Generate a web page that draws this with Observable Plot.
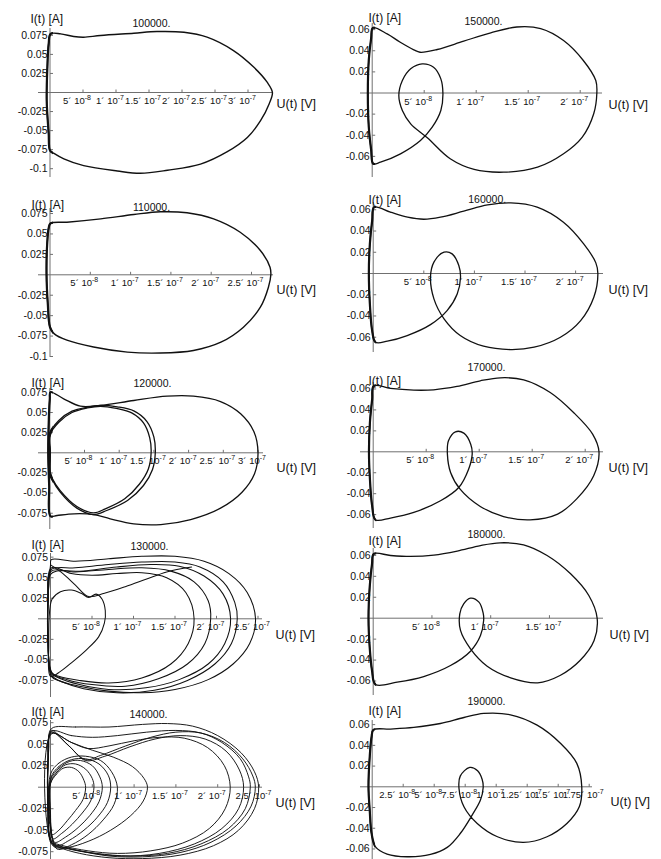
<!DOCTYPE html>
<html><head><meta charset="utf-8">
<script src="https://cdn.jsdelivr.net/npm/d3@7"></script>
<script src="https://cdn.jsdelivr.net/npm/@observablehq/plot@0.6"></script>
<style>
html,body{margin:0;padding:0;background:#fff;overflow:hidden}
#wrap{position:relative;width:661px;height:859px;overflow:hidden;background:#fff}
#wrap svg{position:absolute;overflow:visible;background:transparent}
</style></head><body><div id="wrap"></div>
<script>
// U values in units of 1e-8 V, I values in A
const titles = ["100000.","110000.","120000.","130000.","140000.","150000.","160000.","170000.","180000.","190000."];
const yTicksA = [0.075,0.05,0.025,-0.025,-0.05,-0.075,-0.1];
const yLabelsA = ["0.075","0.05","0.025","-0.025","-0.05","-0.075","-0.1"];
const yTicksB = [0.075,0.05,0.025,-0.025,-0.05,-0.075];
const yLabelsB = ["0.075","0.05","0.025","-0.025","-0.05","-0.075"];
const yTicksC = [0.06,0.04,0.02,-0.02,-0.04,-0.06];
const yLabelsC = ["0.06","0.04","0.02","-0.02","-0.04","-0.06"];
const xTicks6 = [5,10,15,20,25,30];
const xLabels6 = ["5´ 10^-8","1´ 10^-7","1.5´ 10^-7","2´ 10^-7","2.5´ 10^-7","3´ 10^-7"];
const xTicks5 = [5,10,15,20,25];
const xLabels5 = ["5´ 10^-8","1´ 10^-7","1.5´ 10^-7","2´ 10^-7","2.5´ 10^-7"];
const xTicks4 = [5,10,15,20];
const xLabels4 = ["5´ 10^-8","1´ 10^-7","1.5´ 10^-7","2´ 10^-7"];
const xTicks3 = [5,10,15];
const xLabels3 = ["5´ 10^-8","1´ 10^-7","1.5´ 10^-7"];
const xTicks7 = [2.5,5,7.5,10,12.5,15,17.5];
const xLabels7 = ["2.5´ 10^-8","5´ 10^-8","7.5´ 10^-8","1´ 10^-7","1.25´ 10^-7","1.5´ 10^-7","1.75´ 10^-7"];

const curve100k = [[0.1,0.077],[1.6,0.077],[3.6,0.0735],[5.1,0.0726],[7.65,0.0748],[12.7,0.0778],[16.2,0.080],[20.3,0.079],[23.8,0.0726],[27.8,0.055],[30.9,0.033],[32.9,0.0135],[33.7,0],[33.2,-0.015],[31.9,-0.037],[29.9,-0.059],[26.8,-0.078],[22.8,-0.094],[17.8,-0.102],[13.7,-0.106],[10.2,-0.103],[5.1,-0.096],[2.1,-0.087],[0.6,-0.080],[0,-0.076],[-0.2,-0.054],[-0.5,-0.0105],[-0.4,0.033],[-0.2,0.064]];
const curve110k = [[0.06,0.063],[2.1,0.0644],[6.3,0.0685],[10.4,0.0738],[13.7,0.0771],[17.0,0.0759],[20.3,0.0685],[23.6,0.0521],[26.1,0.0297],[27.3,0.0093],[27.4,0],[27.1,-0.0152],[26.1,-0.0397],[24.0,-0.0641],[21.2,-0.0825],[17.8,-0.0926],[13.7,-0.0957],[9.6,-0.0946],[5.4,-0.0884],[2.1,-0.080],[0.5,-0.072],[0,-0.064],[-0.27,-0.036],[-0.43,0],[-0.35,0.038],[-0.15,0.058]];
const curve120kA = [[0.1,-0.0787],[-0.09,-0.0406],[-0.23,0],[-0.14,0.042],[0,0.067],[0.1,0.0752],[2.0,0.067],[4.4,0.0578],[7.3,0.0587],[12.1,0.0649],[16.9,0.0702],[20.7,0.0702],[24.6,0.0636],[27.5,0.0484],[29.4,0.0264],[30.0,0],[29.5,-0.026],[27.7,-0.0489],[24.6,-0.0687],[20.3,-0.0828],[16.0,-0.089],[12.1,-0.0881],[8.7,-0.0819],[6.3,-0.0766],[3.5,-0.0757],[1.05,-0.0778]];
const curve120kB = [[0,-0.026],[0,0],[0,0.0236],[1.3,0.040],[3.2,0.0516],[5.4,0.0566],[7.3,0.0587],[9.7,0.057],[12.1,0.052],[14.0,0.0388],[15.0,0.0194],[15.2,0],[14.8,-0.0207],[13.5,-0.0406],[11.2,-0.0592],[8.2,-0.0716],[6.3,-0.0766],[3.9,-0.0687],[1.5,-0.0489],[0.3,-0.0323]];
const curve120kC = [[0,-0.024],[0,0],[0,0.022],[1.3,0.038],[3.2,0.050],[5.4,0.0556],[7.3,0.0577],[9.6,0.055],[11.8,0.0495],[13.5,0.037],[14.4,0.0185],[14.6,0],[14.2,-0.02],[12.9,-0.039],[10.8,-0.057],[8.0,-0.0695],[6.3,-0.0745],[3.9,-0.0667],[1.5,-0.047],[0.3,-0.031]];
const curve130kA = [[0.1,0.072],[3,0.07],[7,0.073],[11,0.076],[15,0.076],[18.5,0.07],[21.5,0.055],[23.7,0.032],[24.7,0],[24,-0.03],[22,-0.055],[19,-0.074],[15,-0.086],[11,-0.09],[7,-0.088],[3.5,-0.082],[1,-0.075],[0.1,-0.068],[-0.3,-0.03],[-0.35,0.01],[-0.2,0.045],[0,0.065]];
const curve130kB = [[0.1,0.06],[3,0.062],[7,0.066],[11,0.069],[15,0.069],[18,0.063],[20.8,0.045],[22.2,0.02],[22.5,0],[21.8,-0.03],[19.8,-0.055],[16.5,-0.075],[12.5,-0.087],[8,-0.09],[4,-0.085],[1.2,-0.076],[0.1,-0.07],[-0.3,-0.03],[-0.35,0.01],[-0.2,0.04]];
const curve130kC = [[0.1,0.055],[4,0.058],[8,0.063],[12,0.066],[15.5,0.064],[18.5,0.052],[20.8,0.03],[21.7,0],[21,-0.03],[19,-0.055],[15.5,-0.074],[11.5,-0.084],[7,-0.086],[3.5,-0.08],[1,-0.072],[0.1,-0.066],[-0.3,-0.02],[-0.3,0.02]];
const curve130kD = [[0.1,0.058],[3,0.057],[7,0.06],[11,0.062],[14.5,0.058],[17.3,0.045],[19,0.022],[19.3,0],[18.6,-0.03],[16.5,-0.055],[13,-0.073],[9,-0.082],[5,-0.08],[2,-0.074],[0.2,-0.066],[-0.3,-0.02],[-0.3,0.02]];
const curve130kE = [[0.1,0.062],[2.5,0.055],[5,0.053],[8,0.055],[11,0.056],[14,0.05],[16.3,0.032],[17.3,0],[16.6,-0.03],[14.5,-0.055],[11,-0.072],[7,-0.078],[3.5,-0.075],[1,-0.07],[0.1,-0.065],[-0.3,-0.02],[-0.3,0.02]];
const curve130kF = [[0.1,0.065],[1.5,0.055],[3,0.041],[4.6,0.027],[6.5,0.031],[9,0.039],[11.5,0.048],[14,0.057],[17,0.063]];
const curve130kG = [[0,-0.07],[-0.2,-0.03],[-0.1,0.01],[0.2,0.024],[1.2,0.033],[2.5,0.035],[3.7,0.031],[4.6,0.026],[5.5,0.03],[6.2,0.024],[6.6,0.01],[6.5,-0.005],[5.8,-0.022],[4.3,-0.038],[2.7,-0.052],[1.2,-0.064]];
const curve140kO1 = [[0.1,0.068],[3,0.07],[7,0.07],[11,0.073],[14,0.074],[17,0.071],[20,0.06],[22.8,0.04],[24.4,0.018],[24.9,0],[24.4,-0.025],[22.5,-0.05],[19.5,-0.068],[15.5,-0.079],[11,-0.083],[7,-0.082],[3.5,-0.077],[1,-0.07],[0.1,-0.066],[-0.3,-0.03],[-0.35,0.01],[-0.2,0.045]];
const curve140kO2 = [[0.1,0.066],[2,0.05],[4.2,0.032],[6,0.037],[9,0.048],[12,0.058],[15,0.064],[18,0.063],[20.8,0.052],[23,0.033],[24.2,0.013],[24.5,0],[24,-0.022],[22.2,-0.045],[19.2,-0.064],[15.5,-0.076],[11,-0.081],[7,-0.08],[3.5,-0.074],[1,-0.068],[0.1,-0.064],[-0.3,-0.02],[-0.3,0.02]];
const curve140kO3 = [[0.1,0.065],[2.5,0.06],[5,0.058],[8,0.06],[11.5,0.064],[15,0.066],[18,0.063],[20.5,0.052],[22.7,0.033],[23.7,0.012],[23.9,0],[23.3,-0.025],[21.3,-0.048],[18,-0.066],[14,-0.077],[9.5,-0.08],[5.5,-0.077],[2.5,-0.072],[0.3,-0.066],[-0.3,-0.02],[-0.3,0.03]];
const curve140kO4 = [[0.1,0.064],[2.2,0.048],[4.2,0.031],[6.5,0.036],[9.5,0.047],[12.5,0.056],[15.5,0.06],[18.5,0.056],[21,0.042],[22.6,0.02],[23.1,0],[22.5,-0.025],[20.5,-0.048],[17.2,-0.066],[13,-0.077],[8.5,-0.08],[4.5,-0.076],[1.5,-0.07],[0.1,-0.064],[-0.3,-0.02],[-0.3,0.03]];
const curve140kO5 = [[0.1,0.063],[2.5,0.052],[4.5,0.045],[7,0.048],[10,0.054],[13,0.058],[16,0.057],[18.8,0.046],[20.8,0.025],[21.5,0],[20.9,-0.025],[19,-0.048],[15.8,-0.065],[12,-0.074],[8,-0.077],[4.5,-0.074],[1.5,-0.068],[0.1,-0.062],[-0.3,-0.02],[-0.3,0.03]];
const curve140kI1 = [[0.1,0.062],[2.5,0.052],[5,0.043],[7.5,0.035],[9.8,0.024],[11.2,0.01],[11.6,0],[11.1,-0.016],[9.6,-0.033],[7.2,-0.05],[4.5,-0.063],[2,-0.07],[0.3,-0.068]];
const curve140kI2 = [[0,0.015],[1,0.028],[2.5,0.035],[4.2,0.036],[6,0.031],[7.3,0.018],[8,0],[7.6,-0.02],[6.3,-0.038],[4.5,-0.055],[2.5,-0.067],[0.8,-0.072],[0,-0.05]];
const curve140kI3 = [[0,0.01],[1,0.024],[2.5,0.032],[4.2,0.033],[5.8,0.027],[6.9,0.014],[7.2,0],[6.8,-0.018],[5.6,-0.035],[4,-0.05],[2.2,-0.062],[0.7,-0.068],[0,-0.045]];
const curve140kI4 = [[0,0.008],[1,0.022],[2.3,0.03],[3.6,0.031],[5,0.025],[5.9,0.012],[6.2,0],[5.8,-0.017],[4.7,-0.033],[3.3,-0.047],[1.8,-0.058],[0.5,-0.064],[0,-0.04]];
const curve140kI5 = [[0,0.005],[0.8,0.018],[1.8,0.026],[3,0.027],[4.2,0.021],[5,0.01],[5.2,0],[4.8,-0.016],[3.8,-0.03],[2.6,-0.043],[1.3,-0.054],[0.3,-0.06],[0,-0.035]];
const curve140kI6 = [[0,0.004],[0.7,0.015],[1.5,0.022],[2.5,0.023],[3.4,0.018],[4,0.008],[4.2,0],[3.9,-0.014],[3,-0.027],[2,-0.039],[1,-0.05],[0.2,-0.055],[0,-0.03]];
const curve150k = [[0.07,0.0617],[1.44,0.056],[2.7,0.048],[4.0,0.0409],[4.6,0.0386],[6.25,0.0412],[8.8,0.0491],[11.4,0.057],[13.9,0.0625],[16.2,0.0610],[18.4,0.0497],[20.3,0.0308],[21.5,0.0118],[21.6,0],[21.3,-0.0197],[20.2,-0.0418],[18.4,-0.0576],[15.9,-0.0703],[12.65,-0.075],[9.8,-0.0724],[7.5,-0.0623],[5.3,-0.0424],[3.7,-0.0292],[2.9,-0.0166],[2.56,-0.0024],[2.9,0.0118],[3.7,0.0229],[4.8,0.0276],[5.9,0.0244],[6.6,0.0134],[6.8,-0.0008],[6.6,-0.0166],[5.77,-0.0324],[4.64,-0.045],[2.72,-0.0576],[0.8,-0.0655],[0.1,-0.067],[-0.1,-0.054],[-0.33,-0.032],[-0.42,0],[-0.33,0.031],[-0.1,0.052]];
const curve160k = [[0.1,0.0625],[1.7,0.0577],[3.4,0.053],[5.0,0.0511],[6.65,0.053],[8.95,0.0587],[11.3,0.0646],[13.6,0.0665],[16.2,0.0625],[18.8,0.0483],[20.8,0.0279],[22.0,0.01],[22.2,0],[21.8,-0.0223],[20.5,-0.0443],[18.5,-0.06],[15.9,-0.0694],[13.6,-0.0716],[10.9,-0.0685],[8.6,-0.0584],[7.0,-0.0427],[6.0,-0.0239],[5.66,-0.0035],[6.0,0.0107],[7.0,0.0201],[7.8,0.0185],[8.46,0.0075],[8.63,-0.0035],[8.3,-0.0192],[7.3,-0.0349],[5.66,-0.0481],[3.36,-0.0584],[1.4,-0.0637],[0.23,-0.0647],[-0.1,-0.054],[-0.33,-0.0285],[-0.43,0],[-0.33,0.0279],[-0.1,0.05]];
const curve170k = [[0.06,0.063],[1.63,0.0605],[3.83,0.0589],[5.7,0.0592],[7.9,0.0624],[10.1,0.0678],[12.0,0.0707],[14.2,0.0688],[16.7,0.0567],[18.9,0.0376],[20.7,0.0169],[21.3,0],[20.8,-0.0229],[19.2,-0.045],[17.4,-0.0595],[14.8,-0.065],[12.3,-0.0618],[10.1,-0.0522],[8.2,-0.0357],[7.3,-0.0197],[7.0,-0.0022],[7.1,0.0105],[7.76,0.0191],[8.55,0.0178],[9.2,0.0073],[9.34,-0.0022],[9.0,-0.0166],[8.07,-0.0341],[6.35,-0.0468],[3.83,-0.0579],[1.63,-0.0633],[0.22,-0.065],[-0.1,-0.0516],[-0.31,-0.026],[-0.4,0],[-0.31,0.028],[-0.1,0.05]];
const curve180k = [[0.05,0.0615],[1.47,0.0599],[3.17,0.059],[5.16,0.0602],[7.15,0.0641],[9.13,0.0694],[10.8,0.072],[12.8,0.0701],[14.8,0.0599],[16.8,0.0424],[18.35,0.0217],[19.06,0],[18.8,-0.0213],[17.6,-0.0404],[15.9,-0.0547],[14.0,-0.0617],[11.7,-0.0569],[9.7,-0.0458],[8.28,-0.0292],[7.43,-0.0117],[7.37,0.0042],[7.7,0.0137],[8.28,0.0191],[9.0,0.0153],[9.36,0.0048],[9.4,-0.0022],[9.13,-0.0166],[8.28,-0.0315],[6.58,-0.0452],[4.3,-0.0557],[2.04,-0.0611],[0.2,-0.0633],[-0.1,-0.05],[-0.3,-0.0277],[-0.4,0],[-0.3,0.0296],[-0.1,0.0519]];
const curve190k = [[0.1,0.055],[1.48,0.0557],[3.35,0.0573],[5.5,0.0611],[7.4,0.0669],[9.0,0.0708],[11.15,0.0695],[13.3,0.0595],[15.2,0.0418],[16.5,0.0226],[16.9,0],[16.7,-0.0193],[15.7,-0.0354],[14.1,-0.0482],[12.2,-0.0537],[10.1,-0.0482],[8.47,-0.0354],[7.4,-0.0193],[7.0,-0.0016],[7.1,0.0103],[7.87,0.0187],[8.5,0.0155],[8.87,0.0071],[8.95,-0.0006],[8.73,-0.0128],[8.06,-0.0273],[7.1,-0.0451],[6.05,-0.0585],[4.7,-0.0653],[2.82,-0.0675],[1.2,-0.0649],[0.27,-0.0579],[-0.05,-0.045],[-0.2,-0.0225],[-0.3,0],[-0.2,0.029],[-0.05,0.0483]];

// layout (pixels within each 330-wide panel)
const layouts = [
  {left:0,top:0,ox:49.5,oy:92,pu:6.6,pi:762,yTop:28,yBot:177,xL:38,xR:273,tx:151,ty:19.3,ix:30,iy:14,ux:276,uy:99},
  {left:0,top:170,ox:49.5,oy:104.3,pu:8.06,pi:817,yTop:38,yBot:187,xL:38,xR:273,tx:151,ty:32.7,ix:31,iy:30,ux:276,uy:115},
  {left:0,top:345,ox:49.3,oy:107.3,pu:6.94,pi:806,yTop:43,yBot:184,xL:38,xR:263,tx:152,ty:34.3,ix:31,iy:33,ux:276,uy:118},
  {left:0,top:520,ox:50,oy:98.3,pu:8.3,pi:822,yTop:33,yBot:177,xL:38,xR:262,tx:149,ty:21.7,ix:31,iy:20,ux:275,uy:110},
  {left:0,top:690,ox:50,oy:96.7,pu:8.36,pi:860,yTop:30,yBot:175,xL:38,xR:262,tx:148,ty:20,ix:31,iy:17,ux:275,uy:108},
  {left:330,top:0,ox:41.7,oy:92.5,pu:10.4,pi:1056,yTop:23,yBot:177,xL:30,xR:272,tx:153,ty:16.7,ix:38,iy:12.5,ux:278,uy:100},
  {left:330,top:170,ox:42.7,oy:103,pu:10.12,pi:1062,yTop:32,yBot:182,xL:32,xR:273,tx:156.7,ty:25,ix:38,iy:25,ux:278,uy:115},
  {left:330,top:345,ox:42.7,oy:106.3,pu:10.6,pi:1047,yTop:37,yBot:183,xL:30,xR:273,tx:156,ty:18.3,ix:38,iy:30.5,ux:278,uy:118},
  {left:330,top:520,ox:42.7,oy:97.7,pu:11.75,pi:1047,yTop:28,yBot:175,xL:30,xR:273,tx:156,ty:10,ix:38,iy:16,ux:279,uy:110},
  {left:330,top:690,ox:41.7,oy:96.3,pu:12.4,pi:1036,yTop:30,yBot:175,xL:30,xR:262,tx:156,ty:6.7,ix:38,iy:16,ux:280,uy:107}
];

const panels = [
  {closed:[curve100k], open:[], xt:xTicks6, xl:xLabels6, yt:yTicksA, yl:yLabelsA, sw:1.4, thick:true},
  {closed:[curve110k], open:[], xt:xTicks5, xl:xLabels5, yt:yTicksA, yl:yLabelsA, sw:1.4, thick:true},
  {closed:[curve120kA,curve120kB,curve120kC], open:[], xt:xTicks6, xl:xLabels6, yt:yTicksB, yl:yLabelsB, sw:1.3, thick:true},
  {closed:[curve130kA,curve130kB,curve130kC,curve130kD,curve130kE,curve130kG], open:[curve130kF], xt:xTicks5, xl:xLabels5, yt:yTicksB, yl:yLabelsB, sw:1.05, thick:false},
  {closed:[curve140kO1,curve140kO2,curve140kO3,curve140kO4,curve140kO5,curve140kI1,curve140kI2,curve140kI3,curve140kI4,curve140kI5,curve140kI6], open:[], xt:xTicks5, xl:xLabels5, yt:yTicksB, yl:yLabelsB, sw:0.95, thick:false},
  {closed:[curve150k], open:[], xt:xTicks4, xl:xLabels4, yt:yTicksC, yl:yLabelsC, sw:1.3, thick:true},
  {closed:[curve160k], open:[], xt:xTicks4, xl:xLabels4, yt:yTicksC, yl:yLabelsC, sw:1.3, thick:true},
  {closed:[curve170k], open:[], xt:xTicks4, xl:xLabels4, yt:yTicksC, yl:yLabelsC, sw:1.3, thick:true},
  {closed:[curve180k], open:[], xt:xTicks3, xl:xLabels3, yt:yTicksC, yl:yLabelsC, sw:1.3, thick:true},
  {closed:[curve190k], open:[], xt:xTicks7, xl:xLabels7, yt:yTicksC, yl:yLabelsC, sw:1.3, thick:true}
];

const wrap = document.getElementById("wrap");
const ns = "http://www.w3.org/2000/svg";
const W = 330, H = 192;
const axisColor = "#707070";
const THICK = 2.2, XLAB = 9.5;
panels.forEach((p, n) => {
  const L = layouts[n];
  const pxToU = v => (v - L.ox) / L.pu;
  const pxToI = v => (L.oy - v) / L.pi;
  const marks = [
    Plot.ruleY([0], {x1: pxToU(L.xL), x2: pxToU(L.xR), stroke: axisColor, strokeWidth: 1}),
    Plot.ruleX([0], {y1: pxToI(L.yBot), y2: pxToI(L.yTop), stroke: axisColor, strokeWidth: 1}),
    Plot.link(p.xt, {x1: d => d, x2: d => d, y1: 0, y2: 3 / L.pi, stroke: axisColor}),
    Plot.link(p.yt, {x1: 0, x2: 3 / L.pu, y1: d => d, y2: d => d, stroke: axisColor})
  ];
  p.closed.forEach(c => {
    marks.push(Plot.line(c, {x: d => d[0], y: d => d[1], curve: "catmull-rom-closed", stroke: "#111", strokeWidth: p.sw}));
    if (p.thick) marks.push(Plot.line(c, {x: d => d[0], y: d => d[1], curve: "catmull-rom-closed", stroke: "#111", strokeWidth: THICK}));
  });
  p.open.forEach(c => {
    marks.push(Plot.line(c, {x: d => d[0], y: d => d[1], curve: "catmull-rom", stroke: "#111", strokeWidth: p.sw}));
  });
  marks.push(
    Plot.text(p.xt, {x: d => d, y: 0, text: (d, i) => p.xl[i], dx: -6, dy: 8.5, fontSize: XLAB, fill: "#111"}),
    Plot.text(p.yt, {x: 0, y: d => d, text: (d, i) => p.yl[i], textAnchor: "end", dx: -2.5, fontSize: 10.5, fill: "#111"}),
    Plot.text([titles[n]], {frameAnchor: "top-left", dx: L.tx, dy: L.ty, textAnchor: "middle", fontSize: 10.5, fill: "#111"}),
    Plot.text(["I(t) [A]"], {frameAnchor: "top-left", dx: L.ix, dy: L.iy, textAnchor: "start", fontSize: 12, fill: "#111"}),
    Plot.text(["U(t) [V]"], {frameAnchor: "top-left", dx: L.ux, dy: L.uy, textAnchor: "start", fontSize: 12.5, fill: "#111"})
  );
  const svg = Plot.plot({
    width: W, height: H,
    marginTop: 0, marginRight: 0, marginBottom: 0, marginLeft: 0,
    x: {domain: [pxToU(0), pxToU(W)], range: [0, W], axis: null},
    y: {domain: [pxToI(H), pxToI(0)], range: [H, 0], axis: null},
    style: {fontFamily: "'Liberation Sans', Arial, sans-serif", background: "transparent", overflow: "visible"},
    marks
  });
  svg.style.position = "absolute";
  svg.style.left = L.left + "px";
  svg.style.top = L.top + "px";
  // exponent of the x tick labels as a raised, smaller tspan
  svg.querySelectorAll("text").forEach(t => {
    const s = t.textContent;
    const k = s.indexOf("^");
    if (k < 0) return;
    while (t.firstChild) t.removeChild(t.firstChild);
    t.appendChild(document.createTextNode(s.slice(0, k)));
    const ts = document.createElementNS(ns, "tspan");
    ts.setAttribute("dy", "-4");
    ts.setAttribute("font-size", "7");
    ts.textContent = s.slice(k + 1);
    t.appendChild(ts);
  });
  // thick overlay limited to the discharge branch near the I axis
  const defs = document.createElementNS(ns, "defs");
  const cp = document.createElementNS(ns, "clipPath");
  cp.setAttribute("id", "leftclip" + n);
  const r = document.createElementNS(ns, "rect");
  r.setAttribute("x", -10); r.setAttribute("y", 0);
  r.setAttribute("width", L.ox + 3 + 10); r.setAttribute("height", H);
  cp.appendChild(r); defs.appendChild(cp); svg.insertBefore(defs, svg.firstChild);
  svg.querySelectorAll("g, path").forEach(g => {
    if (g.getAttribute("stroke-width") === String(THICK)) g.setAttribute("clip-path", `url(#leftclip${n})`);
  });
  wrap.appendChild(svg);
});
</script></body></html>
